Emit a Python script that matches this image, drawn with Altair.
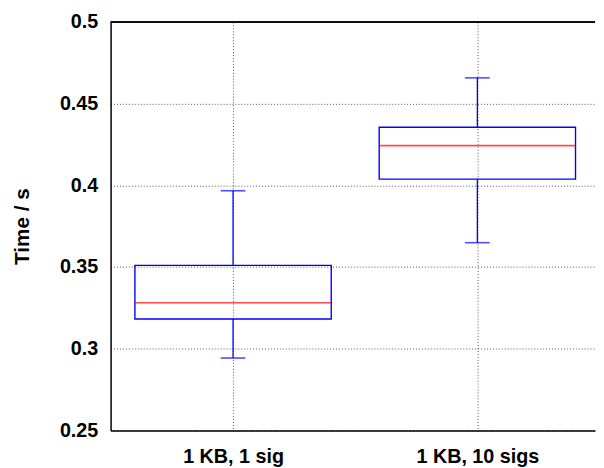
import altair as alt
import pandas as pd

categories = ["1 KB, 1 sig", "1 KB, 10 sigs"]
mins = [0.2943, 0.3649]
q1s = [0.3182, 0.4038]
medians = [0.3281, 0.4243]
q3s = [0.3510, 0.4356]
maxs = [0.3967, 0.4658]
y_ticks = [0.25, 0.3, 0.35, 0.4, 0.45, 0.5]

df = pd.DataFrame({"cat": categories, "lo": mins, "q1": q1s, "med": medians, "q3": q3s, "hi": maxs})

BLUE = "#0000ff"
RED = "#ff0000"
FONT = "Liberation Sans"

x_enc = alt.X("cat:N", sort=categories, title=None,
              scale=alt.Scale(type="point", padding=0.4915, align=0.51),
              axis=alt.Axis(labelAngle=0, labelPadding=17))
y_scale = alt.Scale(domain=[0.25, 0.5], nice=False, zero=False)
y_axis = alt.Axis(values=y_ticks, format="~g", title="Time / s", titlePadding=27, labelPadding=13,
                  titleFontSize=21, titleFont=FONT, titleFontWeight="bold")

base = alt.Chart(df)

lower = base.mark_rule(color=BLUE, strokeWidth=1.3).encode(
    x=x_enc, y=alt.Y("lo:Q", scale=y_scale, axis=y_axis), y2="q1:Q")
upper = base.mark_rule(color=BLUE, strokeWidth=1.3).encode(
    x=x_enc, y=alt.Y("q3:Q", scale=y_scale, axis=y_axis), y2="hi:Q")
cap_lo = base.mark_tick(color=BLUE, size=25, thickness=1.6).encode(
    x=x_enc, y=alt.Y("lo:Q", scale=y_scale, axis=y_axis))
cap_hi = base.mark_tick(color=BLUE, size=25, thickness=1.6).encode(
    x=x_enc, y=alt.Y("hi:Q", scale=y_scale, axis=y_axis))
box = base.mark_bar(size=199, fill="transparent", stroke=BLUE, strokeWidth=1.4).encode(
    x=x_enc, y=alt.Y("q1:Q", scale=y_scale, axis=y_axis), y2="q3:Q")
med = base.mark_tick(color=RED, size=199, thickness=1.6).encode(
    x=x_enc, y=alt.Y("med:Q", scale=y_scale, axis=y_axis))
top = base.mark_rule(color="black", strokeWidth=1.5).encode(
    y=alt.Y("top:Q", scale=y_scale, axis=y_axis)
).transform_calculate(top="0.5")

chart = alt.layer(lower, upper, cap_lo, cap_hi, box, med, top).properties(
    width=491, height=414,
    autosize=alt.AutoSizeParams(type="none"),
    padding={"left": 104, "top": 11, "right": 1, "bottom": 40},
    background="white",
).configure_view(stroke=None).configure_axis(
    labelFont=FONT, labelFontSize=20, labelFontWeight="bold", labelColor="black",
    titleFont=FONT, titleFontSize=21, titleFontWeight="bold", titleColor="black",
    ticks=False, domainColor="black", domainWidth=1.5,
    grid=True, gridColor="#555", gridDash=[1, 2], gridWidth=1,
)

chart.save("out.html", embed_options={"renderer": "svg", "actions": False})
